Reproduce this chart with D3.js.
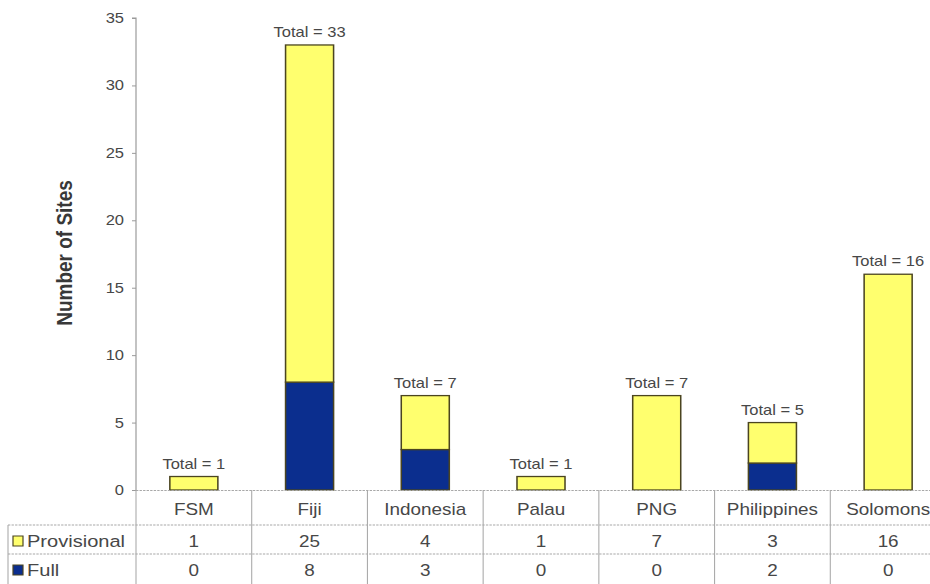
<!DOCTYPE html>
<html>
<head>
<meta charset="utf-8">
<script src="https://cdn.jsdelivr.net/npm/d3@7"></script>
<style>
  html, body { margin: 0; padding: 0; background: #fff; }
  svg { display: block; font-family: "Liberation Sans", Arial, sans-serif; }
</style>
</head>
<body>
<svg id="chart" width="930" height="584"></svg>
<script>
// Sites per country, split into provisional and full status
const categories = ["FSM", "Fiji", "Indonesia", "Palau", "PNG", "Philippines", "Solomons"];
const provisional = [1, 25, 4, 1, 7, 3, 16];
const full = [0, 8, 3, 0, 0, 2, 0];
const yTicks = [0, 5, 10, 15, 20, 25, 30, 35];
const seriesNames = ["Provisional", "Full"];
const seriesColors = { Provisional: "#ffff6e", Full: "#0b2e8e" };

const W = 930, H = 584;
// the drawing uses slightly wide lettering: everything lives in a horizontally stretched group
const stretch = 1.18;
const ux = v => v / stretch;

const svg = d3.select("#chart");
const g = svg.append("g").attr("transform", `scale(${stretch},1)`);

const rows = categories.map((c, i) => ({ cat: c, Full: full[i], Provisional: provisional[i] }));
const stacked = d3.stack().keys(["Full", "Provisional"])(rows);

const x = d3.scaleBand().domain(categories)
  .range([ux(136), ux(946)])
  .paddingInner(0.585).paddingOuter(0.2925);
const y = d3.scaleLinear().domain([0, 35]).range([490, 18]);

const textCol = "#474747";
const gridCol = "#a8a8a8";

// y axis
const yAxis = g.append("g").attr("transform", `translate(${ux(136)},0)`)
  .call(d3.axisLeft(y).tickValues(yTicks).tickSize(ux(4)).tickPadding(ux(8)));
yAxis.select(".domain").attr("stroke", "#9a9a9a").attr("d", `M${-ux(4)},${y(35)}H0V${y(0)}`);
yAxis.selectAll(".tick line").attr("stroke", "#9a9a9a");
yAxis.selectAll(".tick text").attr("fill", textCol).attr("font-size", 14)
  .attr("font-family", "'Liberation Sans', Arial, sans-serif");

// axis title
g.append("text")
  .attr("transform", `translate(${ux(72)},${253}) rotate(-90)`)
  .attr("text-anchor", "middle")
  .attr("font-weight", "bold").attr("font-size", 19).attr("fill", "#383838")
  .text("Number of Sites");

// stacked bars
g.append("g").selectAll("g").data(stacked).join("g")
  .attr("fill", d => seriesColors[d.key])
  .selectAll("rect").data(d => d.filter(p => p[1] > p[0])).join("rect")
  .attr("x", d => x(d.data.cat))
  .attr("width", x.bandwidth())
  .attr("y", d => y(d[1]))
  .attr("height", d => y(d[0]) - y(d[1]))
  .attr("stroke", "#4b4520").attr("stroke-width", 1.3);

// totals above bars
g.append("g").selectAll("text").data(rows).join("text")
  .attr("x", d => x(d.cat) + x.bandwidth() / 2)
  .attr("y", d => y(d.Full + d.Provisional) - 8)
  .attr("text-anchor", "middle").attr("font-size", 14).attr("fill", textCol)
  .text(d => `Total = ${d.Full + d.Provisional}`);

// data table under the chart
const step = x.step();
const left = x.range()[0];
const right = x.range()[1];
const table = g.append("g");
// baseline of the plot, dotted
table.append("line")
  .attr("x1", left).attr("x2", right).attr("y1", y(0) + 0.5).attr("y2", y(0) + 0.5)
  .attr("stroke", gridCol).attr("stroke-dasharray", "2,1");
// horizontal row separators
[525, 554].forEach(yy => {
  table.append("line").attr("x1", ux(8)).attr("x2", right)
    .attr("y1", yy).attr("y2", yy).attr("stroke", gridCol).attr("stroke-dasharray", "2,1");
});
// vertical column separators
d3.range(categories.length + 1).forEach(i => {
  table.append("line").attr("x1", left + i * step).attr("x2", left + i * step)
    .attr("y1", y(0)).attr("y2", H).attr("stroke", gridCol).attr("stroke-width", 0.9);
});
table.append("line").attr("x1", ux(8)).attr("x2", ux(8))
  .attr("y1", 525).attr("y2", H).attr("stroke", gridCol).attr("stroke-width", 0.9);

// category labels
table.selectAll("text.cat").data(categories).join("text").attr("class", "cat")
  .attr("x", d => x(d) + x.bandwidth() / 2).attr("y", 515)
  .attr("text-anchor", "middle").attr("font-size", 16).attr("fill", textCol)
  .text(d => d);

// value rows
const rowBase = { Provisional: 547, Full: 576 };
seriesNames.forEach(key => {
  const vals = key === "Provisional" ? provisional : full;
  table.selectAll(`text.v${key}`).data(vals).join("text").attr("class", `v${key}`)
    .attr("x", (d, i) => x(categories[i]) + x.bandwidth() / 2).attr("y", rowBase[key])
    .attr("text-anchor", "middle").attr("font-size", 16).attr("fill", textCol)
    .text(d => d);
  // legend key and row name
  table.append("rect")
    .attr("x", ux(13)).attr("y", rowBase[key] - 11).attr("width", ux(10)).attr("height", 10)
    .attr("fill", seriesColors[key]).attr("stroke", "#4b4520").attr("stroke-width", 1);
  table.append("text")
    .attr("x", ux(27)).attr("y", rowBase[key])
    .attr("font-size", 17).attr("fill", textCol)
    .text(key);
});
</script>
</body>
</html>
